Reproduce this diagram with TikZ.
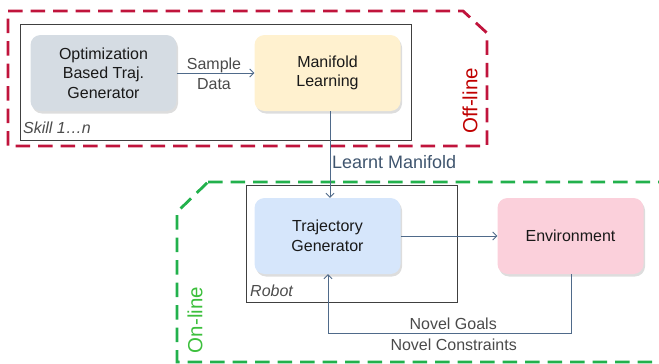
\documentclass[tikz,border=0pt]{standalone}
\usepackage{fontspec}
\setmainfont{Liberation Sans}
\usetikzlibrary{arrows.meta,shadows}
\definecolor{offred}{HTML}{C0143C}
\definecolor{ongreen}{HTML}{22B14C}
\definecolor{ontext}{HTML}{3CBF3C}
\definecolor{offtext}{HTML}{C00000}
\definecolor{conn}{HTML}{4F6A8A}
\definecolor{lbl}{HTML}{4A4A4A}
\definecolor{optfill}{HTML}{D5DCE3}
\definecolor{manfill}{HTML}{FFF1CF}
\definecolor{trajfill}{HTML}{D6E6FB}
\definecolor{envfill}{HTML}{FBD0DB}
\tikzset{
  blockbox/.style={rounded corners=10pt, minimum width=146pt, minimum height=76pt,
    align=center, inner sep=0pt, font=\fontsize{16}{19.5}\selectfont, text=black!90,
    drop shadow={shadow xshift=1.5pt, shadow yshift=-2.5pt, opacity=0.22, fill=black!60}},
  frame/.style={draw=black!75, line width=0.9pt},
  zone/.style={line width=2.8pt, dash pattern=on 14.5pt off 8pt},
  conarrow/.style={draw=conn, line width=0.9pt, -{Straight Barb[length=4pt,width=8pt]}},
  lab/.style={text=lbl, inner sep=0pt, font=\fontsize{16}{19}\selectfont},
  grp/.style={text=black!70, inner sep=0pt, font=\fontsize{16}{19}\selectfont\itshape},
}
\begin{document}
\begin{tikzpicture}[x=1pt,y=-1pt]
\useasboundingbox (0,0) rectangle (659,364);
% zones
\draw[zone, offred] (8,11) -- (463,11) -- (487,33) -- (487,146) -- (8,146) -- cycle;
\node[rotate=90, text=offtext, inner sep=0pt, font=\fontsize{20.5}{22}\selectfont] (offl) at (470,101) {Off-line};
\begin{scope}
\clip (0,0) rectangle (659,364);
\draw[zone, ongreen] (208,182) -- (700,182) -- (700,362) -- (177,362) -- (177,212) -- cycle;
\end{scope}
\node[rotate=90, text=ontext, inner sep=0pt, font=\fontsize{20.5}{22}\selectfont] (onl) at (195,320) {On-line};
% frames
\draw[frame] (20,24) rectangle (411,140);
\node[grp, anchor=west] (skill) at (23,128) {Skill 1…n};
\draw[frame] (246,185) rectangle (457,302);
\node[grp, anchor=west] (robot) at (250,291) {Robot};
% blocks
\node[blockbox, fill=optfill] (opt) at (103.5,73) {Optimization\\Based Traj.\\Generator};
\node[blockbox, fill=manfill] (man) at (327.5,73) {Manifold\\Learning};
\node[blockbox, fill=trajfill] (traj) at (327.5,236) {Trajectory\\Generator};
\node[blockbox, fill=envfill] (env) at (570.5,236) {Environment};
% connectors
\draw[conarrow] (opt.east) -- (man.west);
\node[lab] (samp) at (214,65) {Sample};
\node[lab] (data) at (214,84) {Data};
\draw[conarrow] (man.south -| 330,0) -- (traj.north -| 330,0);
\node[lab, anchor=west, text=conn!80!black, font=\fontsize{18}{20}\selectfont] (learnt) at (332,162) {Learnt Manifold};
\draw[conarrow] (traj.east) -- (env.west);
\coordinate (fb1) at (571,333);
\coordinate (fb2) at (328,333);
\draw[conarrow] (env.south -| fb1) -- (fb1) -- (fb2) -- (traj.south -| fb2);
\node[lab, anchor=east] (goals) at (497,324) {Novel Goals};
\node[lab, anchor=east] (cons) at (517,345) {Novel Constraints};
\end{tikzpicture}
\end{document}
